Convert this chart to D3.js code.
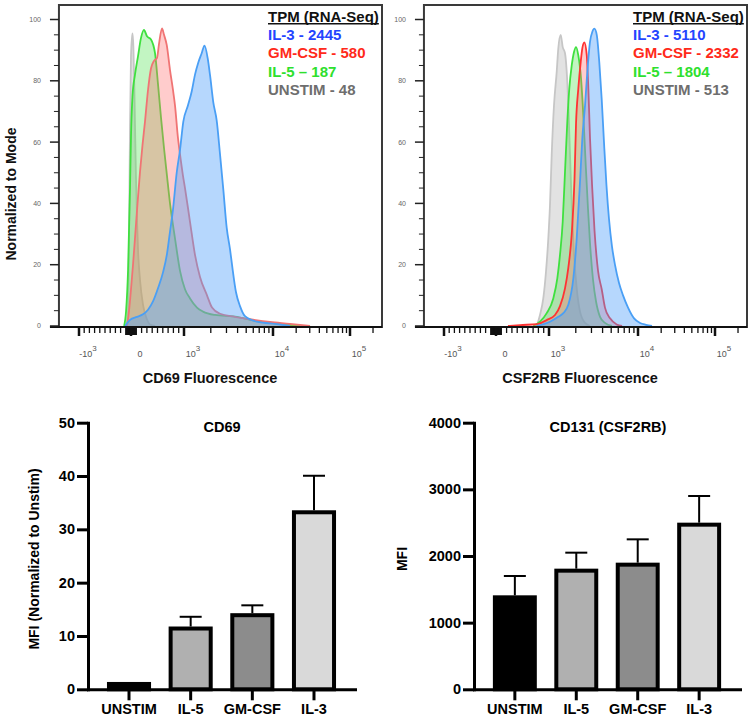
<!DOCTYPE html>
<html><head><meta charset="utf-8">
<script src="https://cdn.jsdelivr.net/npm/d3@7"></script>
<style>
body{margin:0;background:#fff}
svg{display:block}
text{font-family:"Liberation Sans",Arial,Helvetica,sans-serif}
</style>
</head><body>
<svg id="c" width="751" height="719"></svg>
<script>
// ---------------- DATA ----------------
// Histogram series: [fluorescence value, % of mode]
const cd69Unstim = [[-94,0],[-57,5],[-38,28],[-19,65],[0,88],[19,94],[30,95.5],[45,91],[60,80],[75,66],[94,48],[113,35],[132,25],[170,15],[226,7],[283,3],[358,0.5],[453,0]];
const cd69IL5 = [[-132,0],[-94,5],[-57,18],[-19,45],[0,62],[28,75],[75,82],[132,88],[189,94],[245,96.6],[302,94.5],[377,93.5],[453,89],[509,79],[566,68],[623,58],[679,49],[736,40],[830,28.6],[925,18],[1026,12],[1168,9],[1400,6],[1635,4.7],[2230,3.6],[3940,3],[5515,2],[9255,1],[14310,0.5],[22420,0]];
const cd69GMCSF = [[-75,0],[-38,5],[0,12],[38,20],[75,28.6],[123,40],[170,50.3],[217,59],[264,66.7],[321,77],[377,84],[434,86.5],[491,87.5],[528,92],[585,97.1],[623,95],[674,91.7],[736,83.5],[792,77],[830,72],[887,61.2],[925,56],[981,49],[1026,45],[1168,34],[1329,23.2],[1513,16],[1813,10],[2064,6],[2540,4],[3741,3],[5515,2.2],[9255,1.3],[16630,0.7],[30250,0]];
const cd69IL3 = [[-113,0],[-19,2],[113,3],[226,3.8],[321,5.3],[415,8],[509,12.3],[604,17.5],[679,23.5],[736,30.8],[792,38],[862,50],[925,57.5],[987,66.7],[1109,72],[1220,76.5],[1329,82],[1448,86],[1580,89],[1700,91.5],[1847,87.3],[1960,81.9],[2134,73],[2331,67],[2540,56],[2766,44.5],[3020,32],[3290,25],[3463,20],[3840,11],[4260,6.5],[4850,3.2],[6610,1.4],[11270,0.6],[16630,0]];

const csfUnstim = [[768,0],[830,3.6],[892,9],[943,17.7],[987,28.6],[1026,39.5],[1072,55.8],[1138,72],[1221,83],[1272,90.6],[1353,95],[1426,91],[1513,89],[1581,83],[1648,72],[1722,55.8],[1800,39.5],[1910,23.2],[2048,12.3],[2231,4.7],[2540,1],[2890,0]];
const csfIL5 = [[704,0],[830,1.4],[957,4.2],[1117,9],[1240,15.5],[1329,23.2],[1426,34],[1513,50.3],[1606,66.7],[1691,77.5],[1800,85],[1910,89.4],[2012,91],[2135,88.3],[2290,80.8],[2430,68.8],[2587,52.5],[2745,38],[2890,27],[3126,15],[3377,8],[3745,3],[4255,1],[5100,0]];
const csfGMCSF = [[226,0],[453,0.3],[774,0.6],[962,2],[1168,3.6],[1329,6.5],[1513,12.3],[1648,19],[1800,30],[1935,48],[2012,66],[2135,77.5],[2272,86.2],[2368,90.6],[2494,92.5],[2655,88.4],[2767,77.5],[2890,61.2],[3046,46],[3249,31],[3556,18],[3910,12],[4255,6],[4850,2.5],[5762,0.5],[6620,0]];
const csfIL3 = [[768,0],[1026,1.4],[1272,3],[1448,4.2],[1648,6.9],[1876,15.5],[2048,28.6],[2231,47.1],[2368,61.2],[2540,72],[2696,83],[2890,92.8],[3070,96],[3232,97],[3440,95],[3674,86],[3910,74],[4147,60],[4420,46],[4720,35],[5100,26],[5510,20],[6120,14],[6790,10],[7730,6],[9030,2.5],[10620,1],[12700,0.4],[15200,0]];

// Legend (TPM RNA-Seq)
const legendNames = ["IL-3", "GM-CSF", "IL-5", "UNSTIM"];
const legendSep = [" - ", " - ", " \u2013 ", " - "];
const cd69TPM = [2445, 580, 187, 48];
const csfTPM = [5110, 2332, 1804, 513];

// Histogram axis ticks
const yMajorTicks = [0, 20, 40, 60, 80, 100];
const yMinorTicks = [5,10,15,25,30,35,45,50,55,65,70,75,85,90,95];
const xMajorTicks = [-1000, 0, 1000, 10000, 100000];
const xMajorLabels = [["-10","3"],["0",""],["10","3"],["10","4"],["10","5"]];
const xZeroTicks = [-100,-90,-80,-70,-60,-50,-40,-30,-20,-10,10,20,30,40,50,60,70,80,90,100];
const xMinorTicks = [-900,-800,-700,-600,-500,-400,-300,-200,
  200,300,400,500,600,700,800,900,
  2000,3000,4000,5000,6000,7000,8000,9000,20000,30000,40000,50000,60000,70000,80000,90000,200000];

// Bar charts
const categories = ["UNSTIM", "IL-5", "GM-CSF", "IL-3"];
const cd69MFI = [1, 11.4, 13.9, 33.2];
const cd69SD = [0, 2.2, 1.85, 6.85];
const cd69Ticks = [0, 10, 20, 30, 40, 50];
const cd131MFI = [1380, 1780, 1870, 2470];
const cd131SD = [320, 270, 380, 430];
const cd131Ticks = [0, 1000, 2000, 3000, 4000];

// ---------------- DRAW ----------------
const svg = d3.select("#c");
const FONT = '"Liberation Sans", Arial, Helvetica, sans-serif';

// biexponential-like display transform (linear near zero, log above 10^3)
function gT(v){ const a = Math.abs(v); return a <= 1000 ? v/1000 : Math.sign(v)*(1 + Math.log10(a/1000)); }
const anchorVals = [-1000, 0, 1000, 10000, 100000, 262144];
const anchorOffs = [20, 72, 125, 214, 291, 323];
const X_MIN = -2430, X_MAX = 262144;

function makeX(left){
  const lin = d3.scaleLinear().domain(anchorVals.map(gT)).range(anchorOffs.map(o => left + o));
  return v => lin(gT(v));
}
const yH = d3.scaleLinear().domain([0, 100]).range([326, 19.5]);
const FRAME_TOP = 5, AXIS_Y = 327;

function drawHist(left, series, tpm, titleText, titleX, redStroke, showYTitle, clipId){
  const x = makeX(left);
  const g = svg.append("g");
  const x0 = x(X_MIN), x1 = x(X_MAX);

  g.append("clipPath").attr("id", clipId).append("rect")
    .attr("x", x0).attr("y", FRAME_TOP).attr("width", x1 - x0).attr("height", AXIS_Y - FRAME_TOP);

  const styles = [
    {fill: "rgba(190,190,190,0.45)", stroke: "#c6c6c6"},
    {fill: "rgba(70,225,70,0.33)", stroke: "#3fe03f"},
    {fill: "rgba(255,110,110,0.35)", stroke: redStroke},
    {fill: "rgba(80,160,250,0.42)", stroke: "#4a9ff5"}
  ];
  const area = d3.area().x(d => x(d[0])).y0(yH(0)).y1(d => yH(d[1])).curve(d3.curveMonotoneX);
  const line = d3.line().x(d => x(d[0])).y(d => yH(d[1])).curve(d3.curveMonotoneX);
  const pg = g.append("g").attr("clip-path", `url(#${clipId})`);
  series.forEach((s, i) => {
    pg.append("path").attr("d", area(s)).attr("fill", styles[i].fill);
    pg.append("path").attr("d", line(s)).attr("fill", "none")
      .attr("stroke", styles[i].stroke).attr("stroke-width", 1.8).attr("stroke-linejoin", "round");
  });

  // frame
  g.append("rect").attr("x", x0).attr("y", FRAME_TOP).attr("width", x1 - x0).attr("height", AXIS_Y - FRAME_TOP)
    .attr("fill", "none").attr("stroke", "#3a3a3a").attr("stroke-width", 2);
  g.append("line").attr("x1", x0 - 9).attr("x2", x1).attr("y1", AXIS_Y).attr("y2", AXIS_Y)
    .attr("stroke", "#111").attr("stroke-width", 2);

  // y ticks
  yMajorTicks.forEach(t => {
    g.append("line").attr("x1", x0 - 9).attr("x2", x0).attr("y1", yH(t)).attr("y2", yH(t))
      .attr("stroke", "#222").attr("stroke-width", 1.5);
    g.append("text").attr("x", x0 - 18).attr("y", yH(t)).attr("dy", "0.35em")
      .attr("text-anchor", "end").attr("font-size", 7).attr("fill", "#666").text(t);
  });
  yMinorTicks.forEach(t => {
    g.append("line").attr("x1", x0 - 5).attr("x2", x0).attr("y1", yH(t)).attr("y2", yH(t))
      .attr("stroke", "#222").attr("stroke-width", 1);
  });

  // x ticks
  xMinorTicks.forEach(t => {
    g.append("line").attr("x1", x(t)).attr("x2", x(t)).attr("y1", AXIS_Y).attr("y2", AXIS_Y + 6)
      .attr("stroke", "#111").attr("stroke-width", 1.3);
  });
  xZeroTicks.forEach(t => {
    g.append("line").attr("x1", x(t)).attr("x2", x(t)).attr("y1", AXIS_Y).attr("y2", AXIS_Y + 8)
      .attr("stroke", "#111").attr("stroke-width", 1.3);
  });
  xMajorTicks.forEach((t, i) => {
    g.append("line").attr("x1", x(t)).attr("x2", x(t)).attr("y1", AXIS_Y).attr("y2", AXIS_Y + 9)
      .attr("stroke", "#111").attr("stroke-width", 2.5);
    const tx = g.append("text").attr("x", x(t) + 9).attr("y", 357).attr("text-anchor", "middle")
      .attr("font-size", 9).attr("fill", "#555");
    tx.append("tspan").text(xMajorLabels[i][0]);
    if (xMajorLabels[i][1]) tx.append("tspan").attr("dy", -6).attr("font-size", 8).text(xMajorLabels[i][1]);
  });

  // axis title
  g.append("text").attr("x", titleX).attr("y", 383).attr("text-anchor", "middle")
    .attr("font-size", 14.5).attr("font-weight", "bold").attr("fill", "#111").text(titleText);
  if (showYTitle) {
    g.append("text").attr("transform", "translate(15.5,194) rotate(-90)").attr("text-anchor", "middle")
      .attr("font-size", 14).attr("font-weight", "bold").attr("fill", "#111").text("Normalized to Mode");
  }

  // legend
  const lx = left + 209;
  const hdr = g.append("text").attr("x", lx).attr("y", 21.5).attr("font-size", 15).attr("font-weight", "bold")
    .attr("fill", "#111").text("TPM (RNA-Seq)");
  const w = hdr.node().getComputedTextLength();
  g.append("line").attr("x1", lx).attr("x2", lx + w).attr("y1", 23.8).attr("y2", 23.8)
    .attr("stroke", "#111").attr("stroke-width", 1.5);
  const lcol = ["#2445ff", "#ff2a1a", "#2ee02e", "#6e6e6e"];
  legendNames.forEach((n, i) => {
    g.append("text").attr("x", lx).attr("y", 40 + i * 18.4).attr("font-size", 15).attr("font-weight", "bold")
      .attr("fill", lcol[i]).text(n + legendSep[i] + tpm[i]);
  });
}

drawHist(59, [cd69Unstim, cd69IL5, cd69GMCSF, cd69IL3], cd69TPM, "CD69 Fluorescence", 210, "#f07474", true, "clipL");
drawHist(424, [csfUnstim, csfIL5, csfGMCSF, csfIL3], csfTPM, "CSF2RB Fluorescence", 580, "#ff3333", false, "clipR");

// ---- bar charts ----
const barFills = ["#000000", "#b0b0b0", "#8c8c8c", "#d9d9d9"];
function drawBar(x0, x1, yMax, ticks, vals, sds, title, titleX, ylab, ylabX){
  const g = svg.append("g");
  const xb = d3.scaleBand().domain(categories).range([x0, x1]).paddingInner(0.35).paddingOuter(0.34);
  const yb = d3.scaleLinear().domain([0, yMax]).range([689.3, 422.7]);

  categories.forEach((c, i) => {
    g.append("rect").attr("x", xb(c)).attr("width", xb.bandwidth())
      .attr("y", yb(vals[i])).attr("height", yb(0) - yb(vals[i]))
      .attr("fill", barFills[i]).attr("stroke", "#000").attr("stroke-width", 4);
  });
  categories.forEach((c, i) => {
    if (!sds[i]) return;
    const cx = xb(c) + xb.bandwidth() / 2;
    const top = yb(vals[i] + sds[i]);
    g.append("line").attr("x1", cx).attr("x2", cx).attr("y1", yb(vals[i]) - 2).attr("y2", top)
      .attr("stroke", "#000").attr("stroke-width", 2);
    g.append("line").attr("x1", cx - 11).attr("x2", cx + 11).attr("y1", top).attr("y2", top)
      .attr("stroke", "#000").attr("stroke-width", 2);
  });

  const ya = g.append("g").attr("transform", `translate(${x0},0)`)
    .call(d3.axisLeft(yb).tickValues(ticks).tickSize(11).tickPadding(2).tickSizeOuter(0).tickFormat(d3.format("d")));
  const xa = g.append("g").attr("transform", `translate(0,${yb(0)})`)
    .call(d3.axisBottom(xb).tickSize(11).tickPadding(3).tickSizeOuter(0));
  [ya, xa].forEach(a => {
    a.selectAll("path").attr("stroke", "#000").attr("stroke-width", 3).attr("stroke-linecap", "square");
    a.selectAll("line").attr("stroke", "#000").attr("stroke-width", 3);
    a.selectAll("text").attr("font-family", FONT).attr("font-weight", "bold").attr("fill", "#000");
  });
  ya.selectAll("text").attr("font-size", 14.5);
  xa.selectAll("text").attr("font-size", 14.5);

  g.append("text").attr("x", titleX).attr("y", 432).attr("text-anchor", "middle")
    .attr("font-size", 14.5).attr("font-weight", "bold").attr("fill", "#000").text(title);
  g.append("text").attr("transform", `translate(${ylabX},559) rotate(-90)`).attr("text-anchor", "middle")
    .attr("font-size", 14).attr("font-weight", "bold").attr("fill", "#000").text(ylab);
}
drawBar(88, 355, 50, cd69Ticks, cd69MFI, cd69SD, "CD69", 222, "MFI (Normalized to Unstim)", 39);
drawBar(474, 740, 4000, cd131Ticks, cd131MFI, cd131SD, "CD131 (CSF2RB)", 608, "MFI", 406.5);
</script>
</body></html>
